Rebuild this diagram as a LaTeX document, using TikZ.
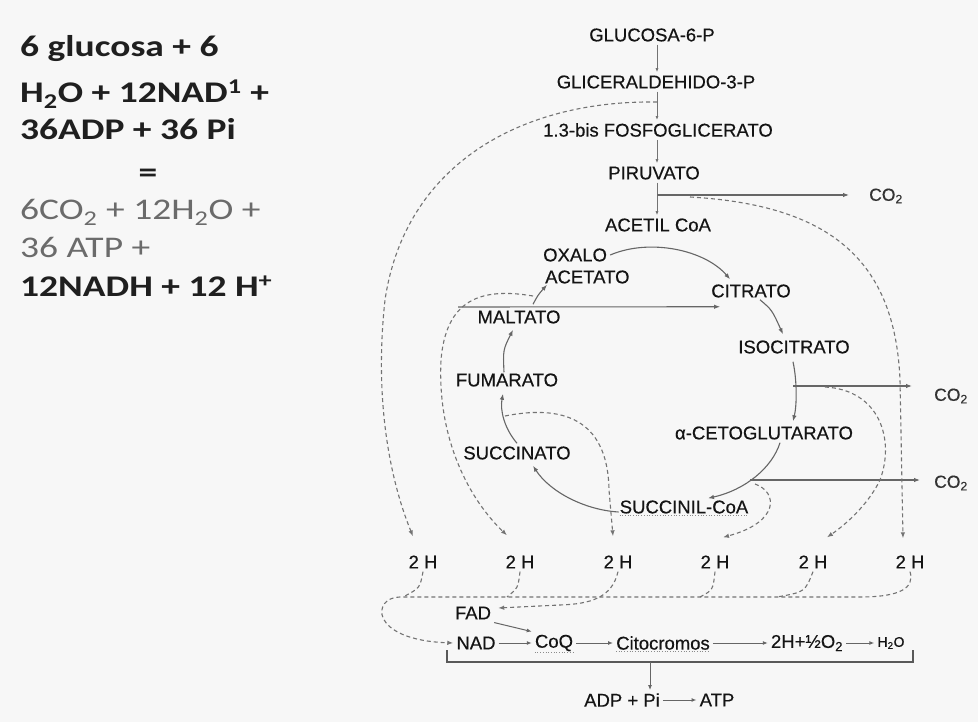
\documentclass[tikz,border=0pt]{standalone}
\usepackage{fontspec}
\usepackage{graphicx}
\setmainfont{Liberation Sans}
\newfontfamily\diagfont[FakeBold=0.4]{Liberation Sans}
\newfontfamily\eqfont{Carlito}
\usetikzlibrary{arrows.meta,calc}
\newcommand\widetext[1]{\scalebox{1.25}[1]{#1}}

\begin{document}
\begin{tikzpicture}[x=1pt,y=-1pt,
  lbl/.style={font=\diagfont\fontsize{18.5}{20}\selectfont, text=black!92, inner sep=3pt},
  co/.style={font=\diagfont\fontsize{17.5}{19}\selectfont, text=black!80, inner sep=3pt},
  eq/.style={anchor=base west, inner sep=0pt, font=\eqfont\bfseries\fontsize{30}{32}\selectfont, text=black!88},
  eqgray/.style={eq, font=\eqfont\fontsize{30}{32}\selectfont, text=black!58},
  flow/.style={draw=black!60, line width=1.1pt, -{Latex[length=6pt,width=4.5pt]}},
  glyc/.style={draw=black!55, line width=0.9pt, -{Latex[length=4pt,width=3pt]}},
  chain/.style={draw=black!60, line width=1pt, -{Latex[length=5pt,width=4pt]}},
  hflow/.style={draw=black!55, line width=1.1pt, dash pattern=on 4pt off 3pt, -{Latex[length=6pt,width=4.5pt]}},
  hjoin/.style={draw=black!55, line width=1.1pt, dash pattern=on 4pt off 3pt},
  uline/.style={draw=black!45, line width=0.7pt, dotted},
]
% canvas
\fill[black!3] (0,0) rectangle (978,722);
\path[use as bounding box] (0,0) rectangle (978,722);

% ---- global balance of the oxidation ----
\node[eq] (e1) at (20,57) {\widetext{6 glucosa + 6}};
\node[eq] (e2) at (20,103) {\widetext{H\textsubscript{2}O + 12NAD\textsuperscript{1} +}};
\node[eq] (e3) at (20,140) {\widetext{36ADP + 36 Pi}};
\node[eq, anchor=base] (e4) at (148,183) {\widetext{=}};
\node[eqgray] (e5) at (20,220) {\widetext{6CO\textsubscript{2} + 12H\textsubscript{2}O +}};
\node[eqgray] (e6) at (20,258) {\widetext{36 ATP +}};
\node[eq] (e7) at (20,297) {\widetext{12NADH + 12 H\textsuperscript{+}}};

% ---- glycolysis ----
\node[lbl] (g6p) at (652,35) {GLUCOSA-6-P};
\node[lbl] (g3p) at (656,82) {GLICERALDEHIDO-3-P};
\node[lbl] (bpg) at (658,130) {1.3-bis FOSFOGLICERATO};
\node[lbl] (pir) at (654,173) {PIRUVATO};
\node[lbl] (acoa) at (658,225) {ACETIL CoA};
\coordinate (vx) at (657,0);
\draw[glyc] (g6p.south -| vx) -- (g3p.north -| vx);
\draw[glyc] (g3p.south -| vx) -- (bpg.north -| vx);
\draw[glyc] (bpg.south -| vx) -- (pir.north -| vx);
\draw[glyc] (pir.south -| vx) -- (acoa.north -| vx);

% ---- Krebs cycle ----
\node[lbl, anchor=west] (oxa1) at (540,255) {OXALO};
\node[lbl, anchor=west] (oxa2) at (542,277) {ACETATO};
\node[lbl] (cit) at (751,291) {CITRATO};
\node[lbl] (iso) at (794,347) {ISOCITRATO};
\node[lbl] (akg) at (764,433) {α-CETOGLUTARATO};
\node[lbl] (scoa) at (684,507) {SUCCINIL-CoA};
\node[lbl] (succ) at (517,453) {SUCCINATO};
\node[lbl] (fum) at (507,380) {FUMARATO};
\node[lbl] (mal) at (519,317) {MALTATO};

\draw[flow] (oxa1.east) .. controls (650,238) and (705,250) .. ($(cit.north west)+(22,-2)$);
\draw[flow] ($(cit.south)+(9,-1)$) .. controls (772,310) .. ($(iso.north)+(-11,-3)$);
\draw[flow] ($(iso.south)+(-1,5)$) .. controls (797,380) and (797,405) .. ($(akg.north)+(29,-2)$);
\draw[flow] ($(akg.south)+(16,0)$) .. controls (772,468) and (745,490) .. ($(scoa.north)+(24,1)$);
\draw[flow] ($(scoa.west)+(2,5)$) .. controls (585,510) and (550,492) .. ($(succ.south)+(16,3)$);
\draw[flow] (succ.north) .. controls (504,428) and (500,410) .. ($(fum.south)+(-4,4)$);
\draw[flow] ($(fum.north)+(-3,2)$) .. controls (503,350) .. ($(mal.south)+(-6,3)$);
\draw[flow] ($(mal.north)+(14,-3)$) .. controls (538,295) .. ($(oxa2.south west)+(5,-2)$);
\draw[uline] ($(scoa.south west)+(3,-1)$) -- ($(scoa.south east)+(-3,-1)$);

\coordinate (hl) at (458,307);
\draw[flow] (hl) -- ($(cit.south west)+(12,6)$);

% ---- CO2 release ----
\node[co] (co2a) at (886,196) {CO\textsubscript{2}};
\node[co] (co2b) at (951,396) {CO\textsubscript{2}};
\node[co] (co2c) at (951,483) {CO\textsubscript{2}};
\coordinate (pj) at (657,195);
\coordinate (ij) at (793,386);
\coordinate (sj) at (750,480);
\draw[flow, shorten >=17pt] (pj) -- (pj -| co2a.west);
\draw[flow, shorten >=19pt] (ij) -- (ij -| co2b.west);
\draw[flow, shorten >=11pt] (sj) -- (sj -| co2c.west);

% ---- hydrogen pairs ----
\node[lbl] (h1) at (423,562) {2 H};
\node[lbl] (h2) at (520,562) {2 H};
\node[lbl] (h3) at (618,562) {2 H};
\node[lbl] (h4) at (715,562) {2 H};
\node[lbl] (h5) at (813,562) {2 H};
\node[lbl] (h6) at (910,562) {2 H};

\coordinate (d1s) at (657,102);
\coordinate (d2s) at (533,296);
\coordinate (d3s) at (505,416);
\coordinate (d4s) at (755,484);
\coordinate (d5s) at (825,387);
\coordinate (d6s) at (690,197);
\draw[hflow] (d1s) .. controls (520,100) and (405,165) .. (385,300) .. controls (374,400) and (390,480) .. ($(h1.north)+(-10,-16)$);
\draw[hflow] (d2s) .. controls (480,287) and (446,300) .. (441,360) .. controls (437,440) and (470,500) .. ($(h2.north)+(-13,-17)$);
\draw[hflow] (d3s) .. controls (570,403) and (608,425) .. (609,490) -- ($(h3.north)+(-5,-16)$);
\draw[hflow] (d4s) .. controls (778,492) and (780,522) .. ($(h4.north)+(8,-15)$);
\draw[hflow] (d5s) .. controls (880,390) and (895,440) .. (880,480) .. controls (868,505) and (845,525) .. ($(h5.north)+(14,-15)$);
\draw[hflow] (d6s) .. controls (830,205) and (895,260) .. (900,380) -- ($(h6.north)+(-7,-14)$);

% ---- respiratory chain ----
\node[lbl] (fad) at (473,613) {FAD};
\node[lbl] (nad) at (476,643) {NAD};
\node[lbl] (coq) at (554,643) {CoQ};
\node[lbl] (cito) at (663,643) {Citocromos};
\node[lbl] (o2) at (807,643) {2H+½O\textsubscript{2}};
\node[lbl, font=\diagfont\fontsize{14}{16}\selectfont] (h2o) at (891,643) {H\textsubscript{2}O};

\draw[hflow] (h6.south) .. controls (915,588) and (900,597) .. (860,597) -- (400,597) .. controls (372,597) and (368,640) .. (nad.west);
\draw[hjoin] (h1.south) .. controls (420,588) .. (403,597);
\draw[hjoin] (h2.south) .. controls (518,588) .. (507,597);
\draw[hjoin] (h4.south) .. controls (713,590) .. (700,597);
\draw[hjoin] (h5.south) .. controls (805,592) .. (777,597);
\draw[hflow] (h3.south) .. controls (612,598) and (590,604) .. (560,605) -- ($(fad.east)+(4,-5)$);

\draw[chain] (nad) -- (coq);
\draw[chain] (coq) -- (cito);
\draw[chain] (cito) -- (o2);
\draw[chain] (o2) -- (h2o);
\draw[chain] (fad.south east) -- (coq.north west);
\draw[uline] ($(coq.south west)+(3,-2)$) -- ($(coq.south east)+(-3,-2)$);
\draw[uline] ($(cito.south west)+(3,-2)$) -- ($(cito.south east)+(-3,-2)$);

\coordinate (bl) at (447,650);
\coordinate (br) at (913,650);
\draw[draw=black!65, line width=1.1pt] (bl) -- ++(0,12) -| (br);

% ---- phosphorylation ----
\node[lbl] (adp) at (622,700) {ADP + Pi};
\node[lbl] (atp) at (717,700) {ATP};
\coordinate (bm) at (650,662);
\draw[chain] (bm) -- (bm |- adp.north);
\draw[chain] (adp) -- (atp);
\end{tikzpicture}
\end{document}
